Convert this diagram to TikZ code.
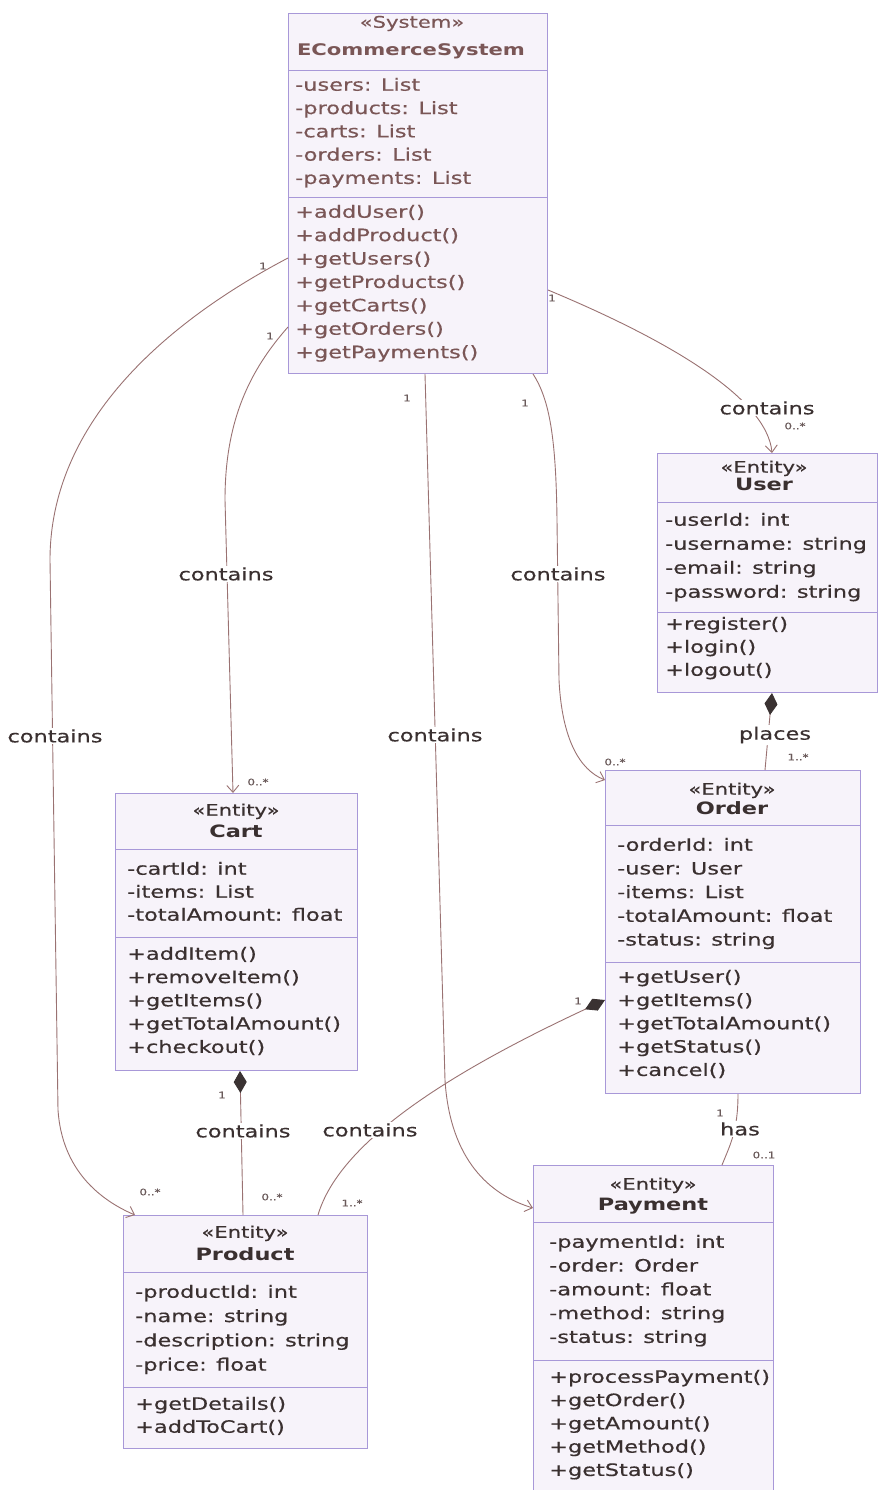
\documentclass[tikz,border=0pt]{standalone}
\usepackage{fontspec}
\setmainfont[FakeStretch=1.32, UprightFeatures={FakeBold=0.5}]{DejaVu Sans}
\usetikzlibrary{arrows.meta,calc}

\definecolor{boxfill}{HTML}{F7F3FA}
\definecolor{boxline}{HTML}{A898D8}
\definecolor{edgec}{HTML}{9A7272}
\definecolor{ink}{HTML}{3A3030}
\definecolor{sysink}{HTML}{7A5656}
\definecolor{lbl}{HTML}{6A5A5A}
\definecolor{diam}{HTML}{3A3232}

\tikzset{
  box/.style={draw=boxline, fill=boxfill, line width=1pt, inner sep=0pt, anchor=north west},
  divider/.style={draw=boxline, line width=0.9pt},
  mem/.style={anchor=mid west, inner sep=0pt, text=ink, font=\fontsize{17}{20}\selectfont},
  sysmem/.style={mem, text=sysink},
  stereo/.style={anchor=mid, inner sep=0pt, text=ink, font=\fontsize{16}{18}\selectfont},
  cname/.style={anchor=mid, inner sep=0pt, text=ink, font=\bfseries\fontsize{17}{20}\selectfont},
  edge/.style={draw=edgec, line width=0.9pt},
  assoc/.style={edge, -{Straight Barb[length=7pt,width=12pt]}},
  compo/.style={edge, {Diamond[length=22pt,width=13pt,color=diam,fill=diam]}-},
  elabel/.style={fill=white, inner sep=1.5pt, text=ink, font=\fontsize{17}{20}\selectfont},
  mult/.style={inner sep=0pt, text=lbl, font=\fontsize{9}{10}\selectfont},
}

% a class box: name, x1, y1, x2, y2
\newcommand\classbox[5]{%
  \node[box, minimum width={#4-#2}, minimum height={#5-#3}] (#1) at (#2,#3) {};}
% a compartment line across box #1 at depth #2 below its top
\newcommand\compline[2]{%
  \draw[divider] ($(#1.north west)+(0,#2)$) -- ($(#1.north east)+(0,#2)$);}
% a list of members: name prefix, style, x, first y, step, lines
\newcommand\memlist[6]{%
  \foreach \txt [count=\i] in {#6} {\node[#2] (#1\i) at (#3,{#4+(\i-1)*#5}) {\txt};}}

\begin{document}
\begin{tikzpicture}[x=1pt,y=-1pt]
\useasboundingbox (0,0) rectangle (878,1490);
\fill[white] (0,0) rectangle (878,1490);

% ---------- classes ----------
\classbox{sys}{288}{13}{547}{373}
\compline{sys}{57}\compline{sys}{184}
\node[stereo, text=sysink] (sysst) at (412,25) {«System»};
\node[cname, text=sysink, font=\bfseries\fontsize{16}{18}\selectfont] (sysnm) at (411,53) {ECommerceSystem};
\memlist{sysa}{sysmem}{295}{88}{23.3}{-users: List,-products: List,-carts: List,-orders: List,-payments: List}
\memlist{sysm}{sysmem}{295}{215}{23.4}{+addUser(),+addProduct(),+getUsers(),+getProducts(),+getCarts(),+getOrders(),+getPayments()}

\classbox{user}{657}{453}{877}{692}
\compline{user}{49}\compline{user}{159}
\node[stereo] (userst) at (764,470) {«Entity»};
\node[cname] (usernm) at (764,488) {User};
\memlist{usera}{mem}{665}{523}{24}{-userId: int,-username: string,-email: string,-password: string}
\memlist{userm}{mem}{665}{627}{23}{+register(),+login(),+logout()}

\classbox{cart}{115}{793}{357}{1070}
\compline{cart}{56}\compline{cart}{144}
\node[stereo] (cartst) at (236,813) {«Entity»};
\node[cname] (cartnm) at (236,835) {Cart};
\memlist{carta}{mem}{127}{872}{23}{-cartId: int,-items: List,-totalAmount: float}
\memlist{cartm}{mem}{127}{957}{23.3}{+addItem(),+removeItem(),+getItems(),+getTotalAmount(),+checkout()}

\classbox{order}{605}{770}{860}{1093}
\compline{order}{55}\compline{order}{192}
\node[stereo] (orderst) at (732,792) {«Entity»};
\node[cname] (ordernm) at (732,812) {Order};
\memlist{ordera}{mem}{617}{848}{23.7}{-orderId: int,-user: User,-items: List,-totalAmount: float,-status: string}
\memlist{orderm}{mem}{617}{980}{23.3}{+getUser(),+getItems(),+getTotalAmount(),+getStatus(),+cancel()}

\classbox{product}{123}{1215}{367}{1448}
\compline{product}{57}\compline{product}{172}
\node[stereo] (prodst) at (245,1235) {«Entity»};
\node[cname] (prodnm) at (245,1258) {Product};
\memlist{proda}{mem}{135}{1295}{24.3}{-productId: int,-name: string,-description: string,-price: float}
\memlist{prodm}{mem}{135}{1407}{23}{+getDetails(),+addToCart()}

\classbox{payment}{533}{1165}{773}{1491}
\compline{payment}{57}\compline{payment}{195}
\node[stereo] (payst) at (653,1187) {«Entity»};
\node[cname] (paynm) at (653,1208) {Payment};
\memlist{paya}{mem}{549}{1245}{23.8}{-paymentId: int,-order: Order,-amount: float,-method: string,-status: string}
\memlist{paym}{mem}{549}{1380}{23.3}{+processPayment(),+getOrder(),+getAmount(),+getMethod(),+getStatus()}

% ---------- associations from the system ----------
\draw[assoc] ($(sys.north west)+(0,245)$)
  .. controls (170,320) and (50,420) .. (50,560)
  -- (58,1110) .. controls (62,1170) and (100,1200) .. ($(product.north west)+(12,0)$);
\node[elabel] (l1) at (55,736) {contains};

\draw[assoc] ($(sys.north west)+(0,314)$)
  .. controls (250,370) and (225,420) .. (225,500)
  -- ($(cart.north west)+(118,0)$);
\node[elabel] (l2) at (226,574) {contains};

\draw[assoc] ($(sys.south west)+(137,0)$)
  -- (445,1080) .. controls (450,1160) and (490,1195) .. ($(payment.north west)+(0,43)$);
\node[elabel] (l3) at (435,735) {contains};

\draw[assoc] ($(sys.south west)+(245,0)$)
  .. controls (550,400) and (556,440) .. (557,520)
  -- (559,680) .. controls (562,740) and (580,770) .. ($(order.north west)+(0,10)$);
\node[elabel] (l4) at (558,574) {contains};

\draw[assoc] ($(sys.north east)+(0,277)$)
  .. controls +(120,50) and +(-5,-55) .. ($(user.north west)+(115,0)$);
\node[elabel] (l5) at (767,408) {contains};

% ---------- compositions and plain association ----------
\draw[compo] ($(user.south west)+(115,0)$) -- ($(order.north west)+(160,0)$);
\node[elabel] (l6) at (775,735) {places};

\draw[compo] ($(cart.south west)+(125,0)$) -- ($(product.north west)+(120,0)$);
\node[elabel] (l7) at (243,1131) {contains};

\draw[compo] ($(order.north west)+(0,230)$)
  .. controls +(-150,70) and +(22,-75) .. ($(product.north west)+(195,0)$);
\node[elabel] (l8) at (370,1130) {contains};

\draw[edge] ($(order.south west)+(133,0)$)
  .. controls +(0,37) and +(8,-20) .. ($(payment.north west)+(189,0)$);
\node[elabel] (l9) at (740,1129) {has};

% ---------- multiplicities ----------
\node[mult] (m1) at (263,266) {1};
\node[mult] (m2) at (270,336) {1};
\node[mult] (m3) at (407,398) {1};
\node[mult] (m4) at (525,403) {1};
\node[mult] (m5) at (552,298) {1};
\node[mult] (m6) at (150,1192) {0..*};
\node[mult] (m7) at (258,782) {0..*};
\node[mult] (m8) at (615,762) {0..*};
\node[mult] (m9) at (795,426) {0..*};
\node[mult] (m10) at (222,1095) {1};
\node[mult] (m11) at (272,1197) {0..*};
\node[mult] (m12) at (352,1203) {1..*};
\node[mult] (m13) at (578,1001) {1};
\node[mult] (m14) at (798,757) {1..*};
\node[mult] (m15) at (764,1155) {0..1};
\node[mult] (m16) at (720,1113) {1};
\end{tikzpicture}
\end{document}
